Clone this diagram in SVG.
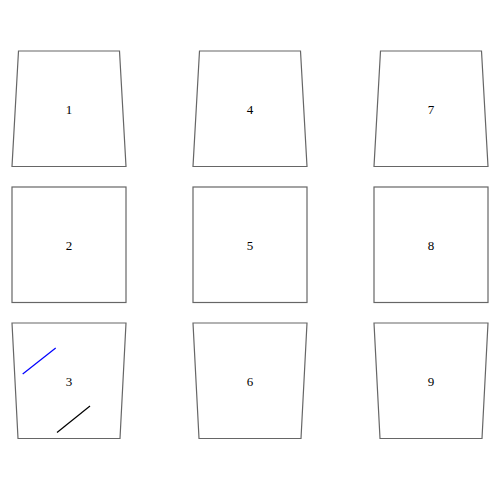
<svg xmlns="http://www.w3.org/2000/svg" width="500" height="500" viewBox="0 0 500 500">
<style>
.n{fill:#fff;stroke:#666;stroke-width:1.2}
.t{font-family:"Liberation Serif",serif;font-size:13px;text-anchor:middle;fill:#000}
</style>
<rect width="500" height="500" fill="#fff"/>
<g id="node1"><polygon class="n" points="18.5,51 119.5,51 126,166.5 12,166.5"/><text class="t" x="69" y="113.5">1</text></g>
<g id="node2"><rect class="n" x="12" y="187" width="114" height="115.5"/><text class="t" x="69" y="249.5">2</text></g>
<g id="node3"><polygon class="n" points="12,323 126,323 120,438.5 18,438.5"/><text class="t" x="69" y="385.5">3</text></g>
<g id="node4"><polygon class="n" points="199.5,51 300.5,51 307,166.5 193,166.5"/><text class="t" x="250" y="113.5">4</text></g>
<g id="node5"><rect class="n" x="193" y="187" width="114" height="115.5"/><text class="t" x="250" y="249.5">5</text></g>
<g id="node6"><polygon class="n" points="193,323 307,323 301,438.5 199,438.5"/><text class="t" x="250" y="385.5">6</text></g>
<g id="node7"><polygon class="n" points="380.5,51 481.5,51 488,166.5 374,166.5"/><text class="t" x="431" y="113.5">7</text></g>
<g id="node8"><rect class="n" x="374" y="187" width="114" height="115.5"/><text class="t" x="431" y="249.5">8</text></g>
<g id="node9"><polygon class="n" points="374,323 488,323 482,438.5 380,438.5"/><text class="t" x="431" y="385.5">9</text></g>
<g id="connectors">
<line x1="22.7" y1="374" x2="55.7" y2="348" stroke="#00f" stroke-width="1.2"/>
<line x1="57" y1="432.5" x2="90" y2="406" stroke="#000" stroke-width="1.2"/>
</g>
</svg>
